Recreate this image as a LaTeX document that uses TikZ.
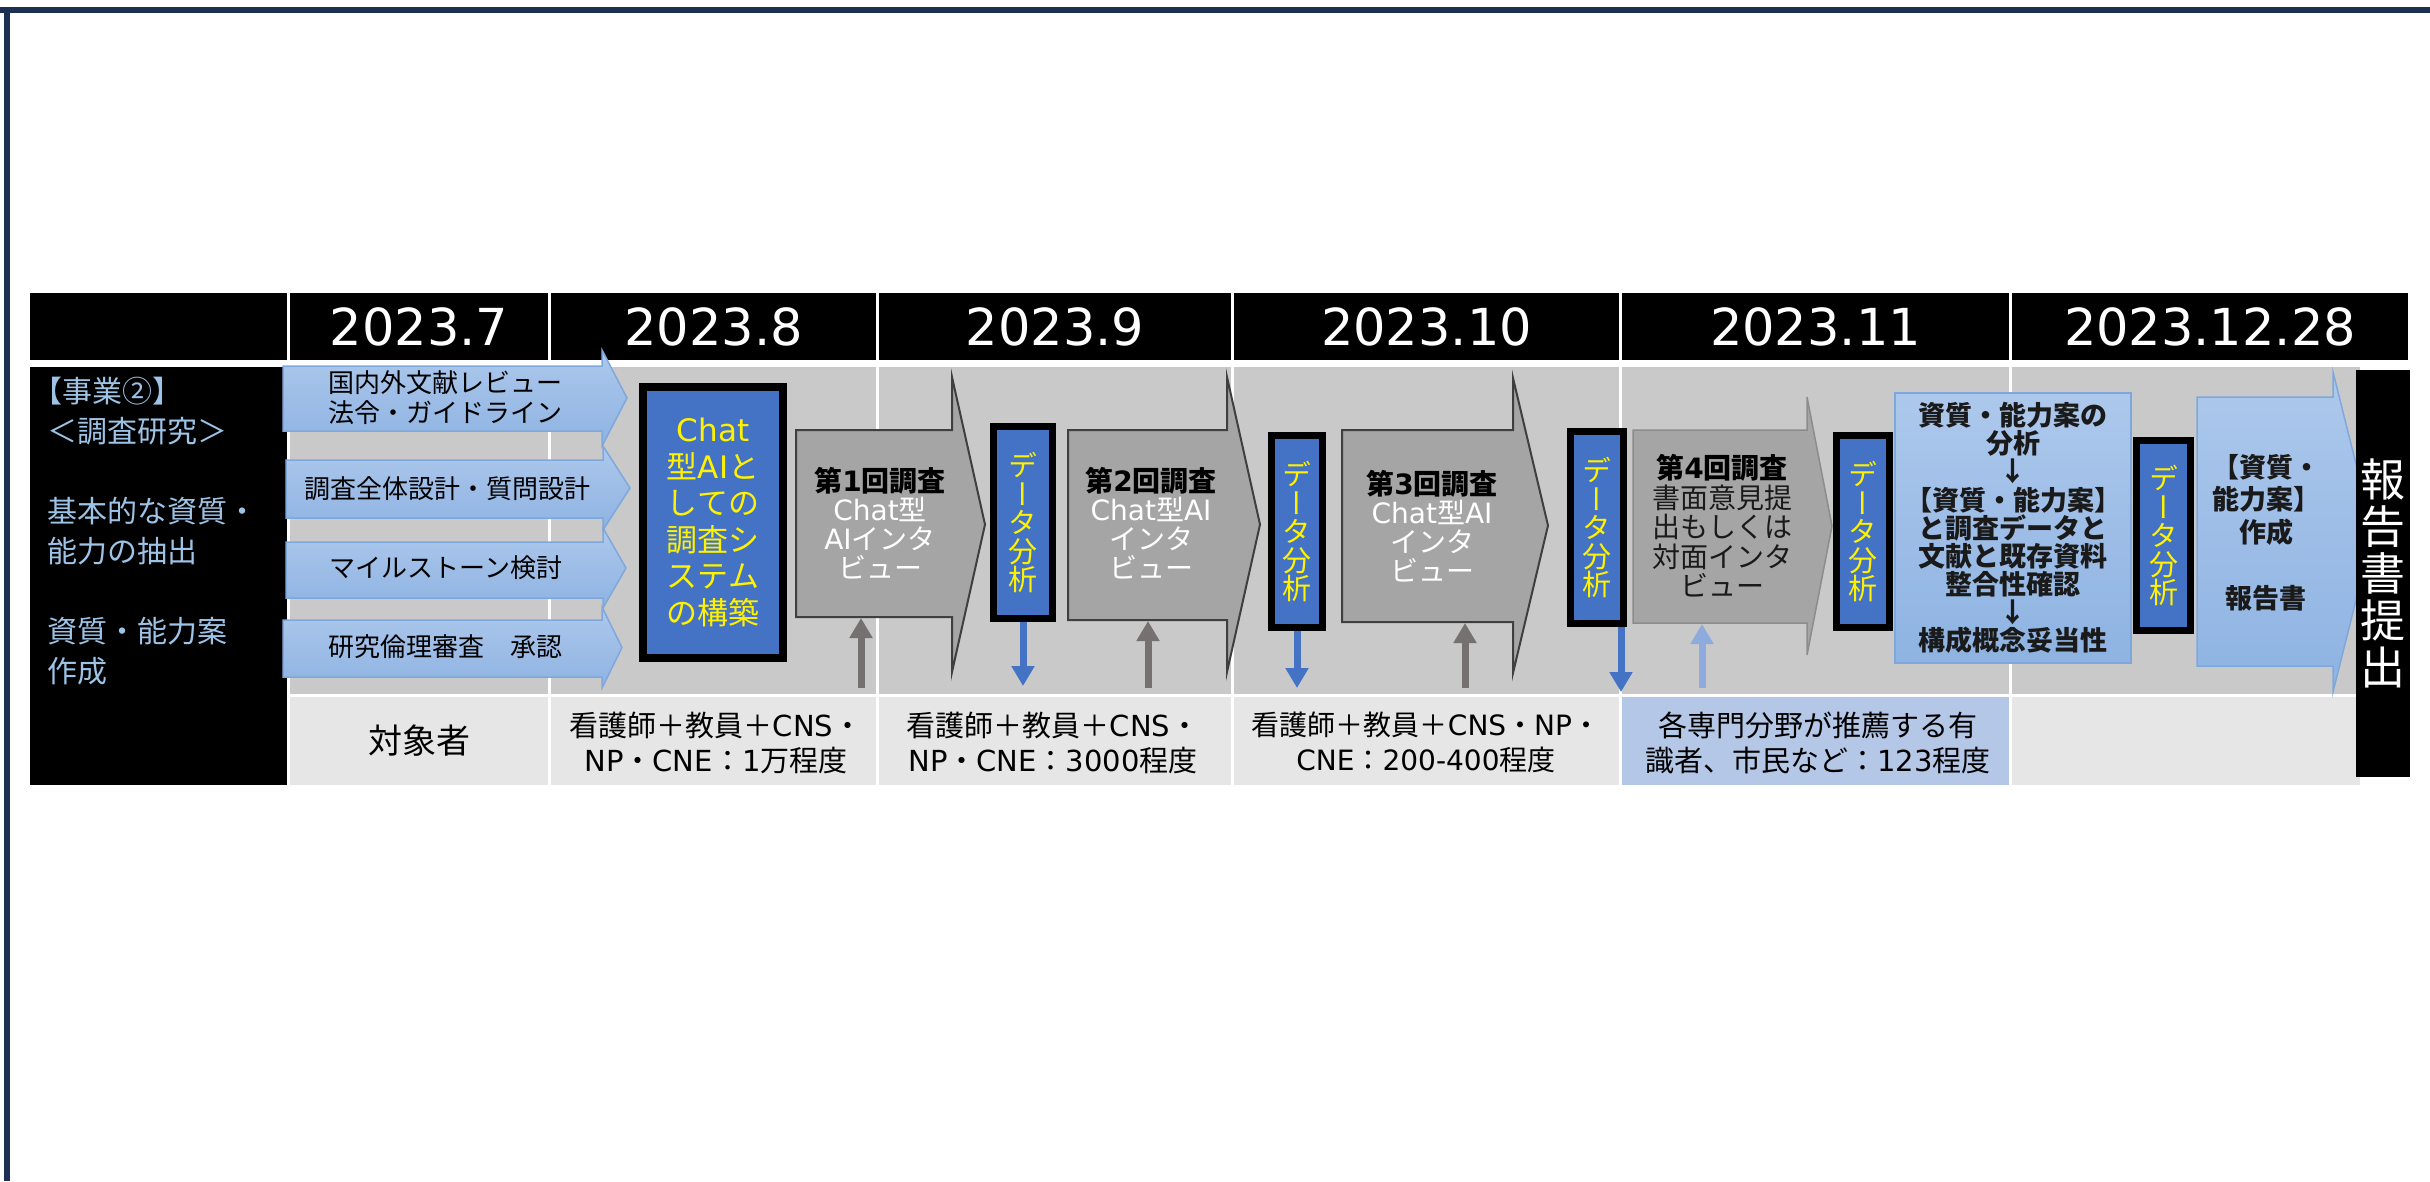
\documentclass[tikz,border=0pt]{standalone}
\usepackage{fontspec}
\setmainfont{DejaVu Sans}
\newfontfamily\latfont{DejaVu Sans}
\newfontfamily\cjkfont{Noto Sans CJK JP}
\newfontfamily\cjkvfont{Noto Sans CJK JP}[RawFeature=+vert]
\usetikzlibrary{arrows.meta}
% automatic switching between Latin (DejaVu Sans) and Japanese (Noto Sans CJK JP)
\XeTeXinterchartokenstate=1
\newXeTeXintercharclass\CJKcls
\newcount\cjkcnt
\newcommand\setcjkrange[2]{\cjkcnt=#1\relax\loop\ifnum\cjkcnt<#2\relax\XeTeXcharclass\cjkcnt=\CJKcls\relax\advance\cjkcnt by 1\relax\repeat}
\setcjkrange{"2190}{"2200}
\setcjkrange{"2460}{"2500}
\setcjkrange{"3000}{"3100}
\setcjkrange{"4E00}{"A000}
\setcjkrange{"FF00}{"FFF0}
\newcommand\cjkswitch{\cjkfont}
\XeTeXinterchartoks 0 \CJKcls = {\cjkswitch}
\XeTeXinterchartoks 4095 \CJKcls = {\cjkswitch}
\XeTeXinterchartoks \CJKcls 0 = {\latfont}
\XeTeXinterchartoks 4095 0 = {\latfont}

\definecolor{navy}{HTML}{1C3052}
\definecolor{bodygray}{HTML}{C9C9C9}
\definecolor{rowgray}{HTML}{E6E6E6}
\definecolor{rowblue}{HTML}{B4C7E7}
\definecolor{lefttext}{HTML}{9DC3E6}
\definecolor{boxblue}{HTML}{4472C4}
\definecolor{lbtop}{HTML}{ADC8EC}
\definecolor{lbbot}{HTML}{8EB3E2}
\definecolor{lbline}{HTML}{7EA8DC}
\definecolor{garrowfill}{HTML}{A5A5A5}
\definecolor{garrowline}{HTML}{3F3F3F}
\definecolor{upgray}{HTML}{767171}
\definecolor{uplight}{HTML}{8FAADC}
\definecolor{darktext}{HTML}{1A1A1A}

\pgfdeclarelayer{bg}
\pgfdeclarelayer{mid}
\pgfsetlayers{bg,mid,main}

\newcommand\mkcell[7]{\pgfmathsetmacro\mkW{#4-#2}\pgfmathsetmacro\mkH{#5-#3}%
  \node[#6,minimum width=\mkW pt,minimum height=\mkH pt] (#1) at ({(#2+#4)/2},{(#3+#5)/2}) {#7};}
\newcommand\blockarrow[8]{\path[#1] (#2,#3) -- (#4,#3) -- (#4,#6) -- (#8,{(#6+#7)/2}) -- (#4,#7) -- (#4,#5) -- (#2,#5) -- cycle;}

\tikzset{
  cellbase/.style={inner sep=0pt, outer sep=0pt, draw=none},
  hdrcell/.style={cellbase, fill=black, text=white, font=\latfont\fontsize{51}{51}\selectfont},
  bodycell/.style={cellbase, fill=bodygray},
  rowcell/.style={cellbase, fill=rowgray, text=black, align=center, font=\fontsize{29}{35}\selectfont},
  lefttxt/.style={inner sep=0pt, align=left, text=lefttext, font=\fontsize{30}{40}\selectfont},
  lbarrow/.style={draw=lbline, line width=1.5pt, top color=lbtop, bottom color=lbbot},
  lbtext/.style={inner sep=0pt, align=center, text=black, font=\fontsize{26}{30}\selectfont},
  garrow/.style={draw=garrowline, line width=2pt, fill=garrowfill, line join=miter},
  garrowlight/.style={draw=garrowline!60, line width=1.5pt, fill=garrowfill, line join=miter},
  gtext/.style={inner sep=0pt, align=center, text=white, font=\fontsize{28}{29}\selectfont},
  g4text/.style={inner sep=0pt, align=center, text=darktext, font=\fontsize{28}{29.5}\selectfont},
  dbox/.style={draw=black, line width=7pt, fill=boxblue, text=yellow, align=center, inner sep=0pt,
    font={\let\cjkswitch\cjkvfont\fontsize{29}{28.5}\selectfont}},
  cbox/.style={draw=black, line width=8pt, fill=boxblue, text=yellow, align=center, inner sep=0pt,
    minimum width=140pt, minimum height=271pt, font=\fontsize{31}{36.5}\selectfont},
  bbox/.style={draw=lbline, line width=1.5pt, top color=lbtop, bottom color=lbbot, inner sep=0pt,
    align=center, text=darktext, minimum width=236pt, minimum height=270pt,
    font=\bfseries\fontsize{27}{28.1}\selectfont},
  btext/.style={inner sep=0pt, align=center, text=darktext, font=\bfseries\fontsize{27}{32.75}\selectfont},
  darr/.style={draw=boxblue, line width=7pt, -{Triangle[width=22pt,length=20pt]}},
  uarr/.style={draw=upgray, line width=7pt, -{Triangle[width=22pt,length=20pt]}},
  uarrlight/.style={draw=uplight, line width=7pt, -{Triangle[width=22pt,length=20pt]}},
}

\begin{document}
\begin{tikzpicture}[x=1pt,y=-1pt]
\useasboundingbox (0,0) rectangle (2430,1181);
\begin{pgfonlayer}{bg}
  \fill[white] (0,0) rectangle (2430,1181);
  % frame
  \fill[navy] (0,7) rectangle (2430,13);
  \fill[navy] (4,7) rectangle (10,1181);
  % header row
  \mkcell{h0}{30}{293}{287}{360}{hdrcell}{}
  \mkcell{h7}{290}{293}{548}{360}{hdrcell}{\raisebox{-4.5pt}{2023.7}}
  \mkcell{h8}{551}{293}{876}{360}{hdrcell}{\raisebox{-4.5pt}{2023.8}}
  \mkcell{h9}{879}{293}{1231}{360}{hdrcell}{\raisebox{-4.5pt}{2023.9}}
  \mkcell{h10}{1234}{293}{1619}{360}{hdrcell}{\raisebox{-4.5pt}{2023.10}}
  \mkcell{h11}{1622}{293}{2009}{360}{hdrcell}{\raisebox{-4.5pt}{2023.11}}
  \mkcell{h12}{2012}{293}{2408}{360}{hdrcell}{\raisebox{-4.5pt}{2023.12.28}}
  % left column
  \mkcell{lcol}{30}{367}{287}{785}{cellbase,fill=black}{}
  % body cells
  \mkcell{c7}{290}{367}{548}{694}{bodycell}{}
  \mkcell{c8}{551}{367}{876}{694}{bodycell}{}
  \mkcell{c9}{879}{367}{1231}{694}{bodycell}{}
  \mkcell{c10}{1234}{367}{1619}{694}{bodycell}{}
  \mkcell{c11}{1622}{367}{2009}{694}{bodycell}{}
  \mkcell{c12}{2012}{367}{2360}{694}{bodycell}{}
  % bottom row
  \mkcell{b7}{290}{697}{548}{785}{rowcell,font=\fontsize{34}{34}\selectfont}{対象者}
  \mkcell{b8}{551}{697}{876}{785}{rowcell}{}
  \mkcell{b9}{879}{697}{1231}{785}{rowcell}{}
  \mkcell{b10}{1234}{697}{1619}{785}{rowcell}{}
  \mkcell{b11}{1622}{697}{2009}{785}{rowcell,fill=rowblue}{}
  \mkcell{b12}{2012}{697}{2360}{785}{rowcell}{}
\end{pgfonlayer}

% bottom row texts
\node[rowcell,fill=none] (tb8) at (716,742.5) {看護師＋教員＋CNS・\\NP・CNE：1万程度};
\node[rowcell,fill=none] (tb9) at (1053,742.5) {看護師＋教員＋CNS・\\NP・CNE：3000程度};
\node[rowcell,fill=none,font=\fontsize{28}{35}\selectfont] (tb10) at (1426,742.5) {看護師＋教員＋CNS・NP・\\CNE：200-400程度};
\node[rowcell,fill=none] (tb11) at (1818,742.5) {各専門分野が推薦する有\\識者、市民など：123程度};

% left column text
\node[lefttxt, anchor=west] (ltxt) at (47,531) {\hspace*{-15pt}【事業②】\\＜調査研究＞\\[40pt]基本的な資質・\\能力の抽出\\[40pt]資質・能力案\\作成};

% block arrow shapes
\begin{pgfonlayer}{mid}
  \blockarrow{lbarrow}{283}{366}{602}{431}{350}{446}{627}
  \blockarrow{lbarrow}{286}{460}{603}{518}{446}{530}{630}
  \blockarrow{lbarrow}{286}{542}{603}{598}{528}{608}{626}
  \blockarrow{lbarrow}{283}{620}{602}{677}{607}{688}{622}
  \blockarrow{garrow}{796}{430}{952}{617}{377}{672}{985}
  \blockarrow{garrow}{1068}{430}{1227}{620}{377}{672}{1260}
  \blockarrow{garrow}{1342}{430}{1513}{622}{378}{673}{1548}
  \blockarrow{garrowlight}{1633}{430}{1807}{623}{397}{655}{1832}
  \blockarrow{lbarrow}{2197}{397}{2333}{666}{372}{692}{2373}
\end{pgfonlayer}

% light blue arrow texts
\node[lbtext] (a1) at (445,398) {国内外文献レビュー\\法令・ガイドライン};
\node[lbtext] (a2) at (447,489) {調査全体設計・質問設計};
\node[lbtext] (a3) at (446,568) {マイルストーン検討};
\node[lbtext] (a4) at (445,647) {研究倫理審査　承認};

% Chat AI system box
\node[cbox] (chat) at (713,522.5) {Chat\\型AIと\\しての\\調査シ\\ステム\\の構築};

% gray survey arrows texts
\node[gtext] (s1) at (880,523.5) {{\bfseries\color{black}第1回調査}\\Chat型\\AIインタ\\ビュー};
\node[gtext] (s2) at (1151,523.5) {{\bfseries\color{black}第2回調査}\\Chat型AI\\インタ\\ビュー};
\node[gtext] (s3) at (1432,526) {{\bfseries\color{black}第3回調査}\\Chat型AI\\インタ\\ビュー};
\node[g4text] (s4) at (1722,526) {{\bfseries\color{black}第4回調査}\\書面意見提\\出もしくは\\対面インタ\\ビュー};

% data analysis boxes
\node[dbox, minimum width=59pt, minimum height=192pt] (d1) at (1023,522.5) {デ\\ー\\タ\\分\\析};
\node[dbox, minimum width=51pt, minimum height=192pt] (d2) at (1297,531.5) {デ\\ー\\タ\\分\\析};
\node[dbox, minimum width=53pt, minimum height=192pt] (d3) at (1597,527.5) {デ\\ー\\タ\\分\\析};
\node[dbox, minimum width=53pt, minimum height=192pt] (d4) at (1863,531.5) {デ\\ー\\タ\\分\\析};
\node[dbox, minimum width=54pt, minimum height=190pt] (d5) at (2163.5,535.5) {デ\\ー\\タ\\分\\析};

% analysis box
\node[bbox] (ana) at (2013,528) {資質・能力案の\\分析\\↓\\【資質・能力案】\\と調査データと\\文献と既存資料\\整合性確認\\↓\\構成概念妥当性};

% report text in last arrow
\node[btext] (rep) at (2266,532.5) {【資質・\\能力案】\\作成\\[32.75pt]報告書};

% report submission column
\node[cellbase, fill=black, text=white, align=center, minimum width=54pt, minimum height=407pt,
      font=\fontsize{45}{47}\selectfont] (sub) at (2383,573.5) {報\\告\\書\\提\\出};

% down arrows from data analysis
\coordinate (e1) at (1023,686);
\coordinate (e2) at (1297,688);
\coordinate (e3) at (1621,692);
\draw[darr] (d1.south) -- (e1);
\draw[darr] (d2.south) -- (e2);
\draw[darr] ([xshift=24pt]d3.south) -- (e3);

% up arrows into surveys
\coordinate (u1) at (861,688);  \coordinate (v1) at (861,618);
\coordinate (u2) at (1148,688); \coordinate (v2) at (1148,621);
\coordinate (u3) at (1465,688); \coordinate (v3) at (1465,623);
\coordinate (u4) at (1702,688); \coordinate (v4) at (1702,624);
\draw[uarr] (u1) -- (v1);
\draw[uarr] (u2) -- (v2);
\draw[uarr] (u3) -- (v3);
\draw[uarrlight] (u4) -- (v4);
\end{tikzpicture}
\end{document}
